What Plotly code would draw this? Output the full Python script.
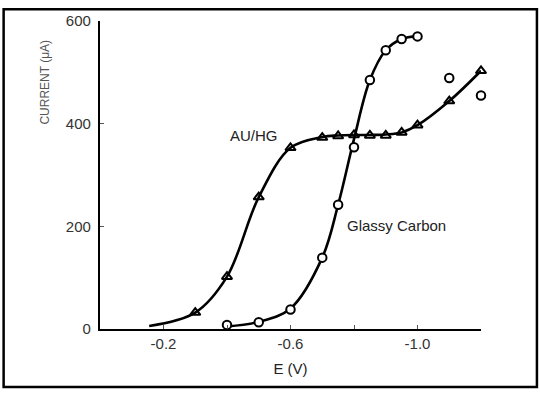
import plotly.graph_objects as go

# --- data (E in V, current) ---
auhg_e = [-0.30, -0.40, -0.50, -0.60, -0.70, -0.75, -0.80, -0.85, -0.90, -0.95, -1.00, -1.10, -1.20]
auhg_i = [32, 102, 257, 353, 373, 376, 378, 377, 377, 383, 397, 444, 503]

gc_e = [-0.40, -0.50, -0.60, -0.70, -0.75, -0.80, -0.85, -0.90, -0.95, -1.00, -1.10, -1.20]
gc_i = [8, 13, 38, 139, 242, 354, 485, 543, 565, 570, 489, 455]

auhg_fit_e = [-0.155, -0.30, -0.40, -0.50, -0.60, -0.70, -0.75, -0.80, -0.85, -0.90, -0.95, -1.00, -1.10, -1.20]
auhg_fit_i = [6, 32, 102, 257, 353, 374, 377, 378, 378, 379, 383, 397, 444, 503]

gc_fit_e = [-0.40, -0.50, -0.60, -0.70, -0.75, -0.80, -0.85, -0.90, -0.95, -1.00]
gc_fit_i = [5, 14, 40, 139, 242, 370, 485, 543, 565, 570]

x_tickvals = [-0.2, -0.4, -0.6, -0.8, -1.0, -1.2]
x_ticktext = ["-0.2", "", "-0.6", "", "-1.0", ""]
y_tickvals = [0, 200, 400, 600]
y_ticktext = ["0", "200", "400", "600"]

FONT = "Liberation Sans, Arial, sans-serif"

fig = go.Figure()

fig.add_trace(go.Scatter(x=auhg_fit_e, y=auhg_fit_i, mode="lines", cliponaxis=False,
                         line=dict(color="black", width=2.6, shape="spline", smoothing=1.0),
                         hoverinfo="skip"))
fig.add_trace(go.Scatter(x=gc_fit_e, y=gc_fit_i, mode="lines", cliponaxis=False,
                         line=dict(color="black", width=2.6, shape="spline", smoothing=1.0),
                         hoverinfo="skip"))
fig.add_trace(go.Scatter(x=auhg_e, y=auhg_i, mode="markers", name="AU/HG", cliponaxis=False,
                         marker=dict(symbol="triangle-up-open", size=9, color="black",
                                     line=dict(color="black", width=2))))
fig.add_trace(go.Scatter(x=gc_e, y=gc_i, mode="markers", name="Glassy Carbon", cliponaxis=False,
                         marker=dict(symbol="circle", size=8.5, color="white",
                                     line=dict(color="black", width=2))))

L, R, T, B = 99.5, 59, 16, 66
W, H = 540, 395
pw, ph = W - L - R, H - T - B

def px_x(x):
    return (x - L) / pw

def px_y(y):
    return (H - B - y) / ph

fig.update_layout(
    width=W, height=H,
    margin=dict(l=L, r=R, t=T, b=B),
    paper_bgcolor="white", plot_bgcolor="white",
    showlegend=False,
    font=dict(family=FONT, size=15, color="#222"),
    xaxis=dict(range=[0, -1.2], tickvals=x_tickvals, ticktext=x_ticktext,
               ticks="inside", ticklen=4, tickwidth=1, tickcolor="#555",
               showline=True, linecolor="black", linewidth=2.2,
               showgrid=False, zeroline=False,
               title=dict(text="E (V)", font=dict(size=15, color="#222"), standoff=12),
               tickfont=dict(size=15, color="#333")),
    yaxis=dict(range=[0, 600], tickvals=y_tickvals, ticktext=y_ticktext,
               ticks="inside", ticklen=4, tickwidth=1, tickcolor="#555",
               showline=True, linecolor="black", linewidth=2.2,
               showgrid=False, zeroline=False,
               tickfont=dict(size=15, color="#333"), ticklabelstandoff=4),
    shapes=[dict(type="rect", xref="paper", yref="paper",
                 x0=px_x(3), x1=px_x(537), y0=px_y(388), y1=px_y(4),
                 line=dict(color="black", width=2.5), fillcolor="rgba(0,0,0,0)",
                 layer="below")],
    annotations=[
        dict(text="AU/HG", x=px_x(254), y=px_y(132), xref="paper", yref="paper",
             showarrow=False, font=dict(size=15, color="#222"), xanchor="center", yanchor="middle"),
        dict(text="Glassy Carbon", x=px_x(396), y=px_y(224), xref="paper", yref="paper",
             showarrow=False, font=dict(size=15, color="#222"), xanchor="center", yanchor="middle"),
        dict(text="CURRENT (μA)", x=px_x(44), y=px_y(78), xref="paper", yref="paper",
             showarrow=False, textangle=-90, font=dict(size=12, color="#555"),
             xanchor="center", yanchor="middle"),
    ],
)

fig.write_html("out.html", config={"displayModeBar": False},
               post_script="document.body.style.margin='0';document.body.style.padding='0';")
